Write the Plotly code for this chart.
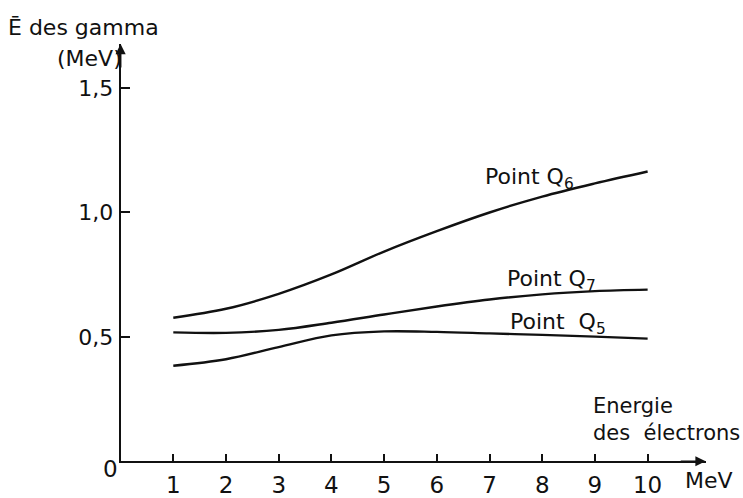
import plotly.graph_objects as go

W, H = 743, 498

energies = [1, 2, 3, 4, 5, 6, 7, 8, 9, 10]
q6 = [0.577, 0.613, 0.673, 0.751, 0.843, 0.925, 1.000, 1.064, 1.117, 1.165]
q7 = [0.518, 0.516, 0.528, 0.557, 0.590, 0.622, 0.650, 0.671, 0.684, 0.690]
q5 = [0.384, 0.410, 0.459, 0.506, 0.522, 0.520, 0.514, 0.508, 0.501, 0.493]

x_ticks = [1, 2, 3, 4, 5, 6, 7, 8, 9, 10]
x_tick_text = ["1", "2", "3", "4", "5", "6", "7", "8", "9", "10"]
y_ticks = [0.5, 1.0, 1.5]
y_tick_text = ["0,5", "1,0", "1,5"]

X_MAX, Y_MAX = 11.1, 1.677
FONT = "DejaVu Sans"
INK = "#111111"

fig = go.Figure()
for name, ys in [("Q6", q6), ("Q7", q7), ("Q5", q5)]:
    fig.add_trace(go.Scatter(x=energies, y=ys, mode="lines", name=name,
                             line=dict(color=INK, width=2.4, shape="spline", smoothing=1.0),
                             showlegend=False, hoverinfo="skip"))

def px(x, y):
    return x / W, 1 - y / H

fig.update_layout(
    width=W, height=H,
    margin=dict(l=0, r=0, t=0, b=0),
    paper_bgcolor="white", plot_bgcolor="white",
    xaxis=dict(domain=[120.6 / W, 705.6 / W], range=[0, X_MAX],
               showgrid=False, zeroline=False, showline=True, linecolor=INK, linewidth=1.7,
               ticks="inside", ticklen=7, tickwidth=1.6, tickcolor=INK,
               tickvals=x_ticks, ticktext=x_tick_text,
               tickfont=dict(family=FONT, size=23, color=INK), ticklabelstandoff=2),
    yaxis=dict(domain=[27.3 / H, 453 / H], range=[0, Y_MAX],
               showgrid=False, zeroline=False, showline=True, linecolor=INK, linewidth=1.7,
               ticks="inside", ticklen=10, tickwidth=1.6, tickcolor=INK,
               tickvals=y_ticks, ticktext=y_tick_text,
               tickfont=dict(family=FONT, size=22, color=INK), ticklabelstandoff=1),
)

# axis arrows
fig.add_annotation(x=X_MAX, y=0, ax=X_MAX - 0.5, ay=0, xref="x", yref="y", axref="x", ayref="y",
                   showarrow=True, arrowhead=2, arrowsize=1.2, arrowwidth=1.7, arrowcolor=INK, text="")
fig.add_annotation(x=0, y=Y_MAX, ax=0, ay=Y_MAX - 0.1, xref="x", yref="y", axref="x", ayref="y",
                   showarrow=True, arrowhead=2, arrowsize=1.2, arrowwidth=1.7, arrowcolor=INK, text="")

def label(text, x, y, xanchor="left", yanchor="middle", size=22):
    xp, yp = px(x, y)
    fig.add_annotation(text=text, x=xp, y=yp, xref="paper", yref="paper", showarrow=False,
                       xanchor=xanchor, yanchor=yanchor, align="left",
                       font=dict(family=FONT, size=size, color=INK))

label("Point Q<sub>6</sub>", 483, 182)
label("Point Q<sub>7</sub>", 505, 286)
label("Point  Q<sub>5</sub>", 508, 330)
label("Energie<br>des  électrons", 591, 428, size=21)
label("0", 110, 479, xanchor="center", size=23)
label("MeV", 683, 490, size=22)
label("Ē des gamma", 6, 28, size=22)
label("(MeV)", 55, 60, size=22)

fig.write_html("out.html")
